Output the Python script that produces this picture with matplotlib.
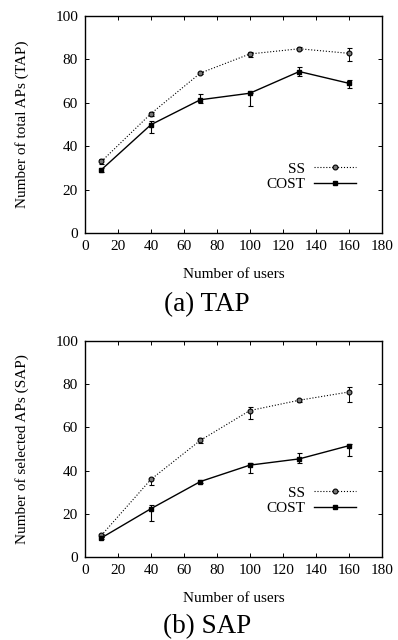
import matplotlib
matplotlib.use("Agg")
import matplotlib.pyplot as plt
from matplotlib.lines import Line2D
import numpy as np

plt.rcParams['font.family'] = ['Liberation Serif', 'DejaVu Serif']
plt.rcParams['xtick.direction'] = 'in'
plt.rcParams['ytick.direction'] = 'in'

# data
users = [10, 40, 70, 100, 130, 160]

tap_ss = [33, 55, 73.7, 82.5, 84.9, 82.8]
tap_ss_lo = [1.2, 1.0, 0.6, 1.3, 0.8, 3.6]
tap_ss_hi = [1.0, 0.8, 0.6, 1.0, 0.8, 2.3]
tap_cost = [29.2, 49.9, 61.4, 64.4, 74.4, 69.0]
tap_cost_lo = [1.0, 3.9, 1.6, 5.8, 2.2, 2.3]
tap_cost_hi = [0.6, 1.5, 2.8, 0.2, 2.0, 1.6]

sap_ss = [10.0, 35.9, 54.0, 67.8, 72.6, 76.4]
sap_ss_lo = [0.8, 2.8, 1.2, 4.0, 0.6, 4.8]
sap_ss_hi = [0.5, 0.5, 1.2, 1.6, 0.5, 2.1]
sap_cost = [8.8, 22.3, 34.9, 42.5, 45.4, 51.5]
sap_cost_lo = [0.6, 5.6, 0.8, 3.5, 1.9, 4.7]
sap_cost_hi = [0.5, 1.5, 0.8, 0.8, 2.9, 0.7]

fig = plt.figure(figsize=(3.98, 6.4), dpi=100)

ss_style = dict(color='black', ls=':', lw=0.8, marker='o', ms=3.5,
                mfc='#777777', mec='black', mew=0.8)
cost_style = dict(color='black', ls='-', lw=1.0, marker='s', ms=3.5,
                  mfc='black', mec='black')


def panel(ax, ss, ss_lo, ss_hi, cost, cost_lo, cost_hi, ylabel):
    ax.errorbar(users, ss, yerr=[ss_lo, ss_hi], elinewidth=0.7, capsize=1.8,
                capthick=0.7, **ss_style)
    ax.errorbar(users, cost, yerr=[cost_lo, cost_hi], elinewidth=0.8, capsize=1.8,
                capthick=0.8, **cost_style)
    ax.set_xlim(0, 180)
    ax.set_ylim(0, 100)
    ax.set_xticks(np.arange(0, 181, 20))
    ax.set_yticks(np.arange(0, 101, 20))
    ax.tick_params(top=True, right=True, labelsize=11, length=3, width=0.7, pad=5)
    ax.set_xlabel('Number of users', fontsize=11, labelpad=11)
    ax.set_ylabel(ylabel, fontsize=11, labelpad=19)
    for s in ax.spines.values():
        s.set_linewidth(1.0)
    handles = [Line2D([], [], **ss_style), Line2D([], [], **cost_style)]
    leg = ax.legend(handles, ['SS', 'COST'], loc='lower right',
                    bbox_to_anchor=(0.935, 0.164), frameon=False, numpoints=1,
                    fontsize=11, markerfirst=False, handlelength=2.75,
                    handletextpad=0.6, labelspacing=0.12, borderaxespad=0)
    for t in leg.get_texts():
        t.set_ha('right')
    return ax


ax1 = fig.add_axes([0.2136, 0.636, 0.7454, 0.339])
panel(ax1, tap_ss, tap_ss_lo, tap_ss_hi, tap_cost, tap_cost_lo, tap_cost_hi,
      'Number of total APs (TAP)')
ax2 = fig.add_axes([0.2136, 0.130, 0.7454, 0.337])
panel(ax2, sap_ss, sap_ss_lo, sap_ss_hi, sap_cost, sap_cost_lo, sap_cost_hi,
      'Number of selected APs (SAP)')

fig.text(207 / 398, 1 - 305 / 640, '(a) TAP', ha='center', va='center', fontsize=19.5)
fig.text(207 / 398, 1 - 627 / 640, '(b) SAP', ha='center', va='center', fontsize=19.5)

fig.savefig('out.png', dpi=100)
